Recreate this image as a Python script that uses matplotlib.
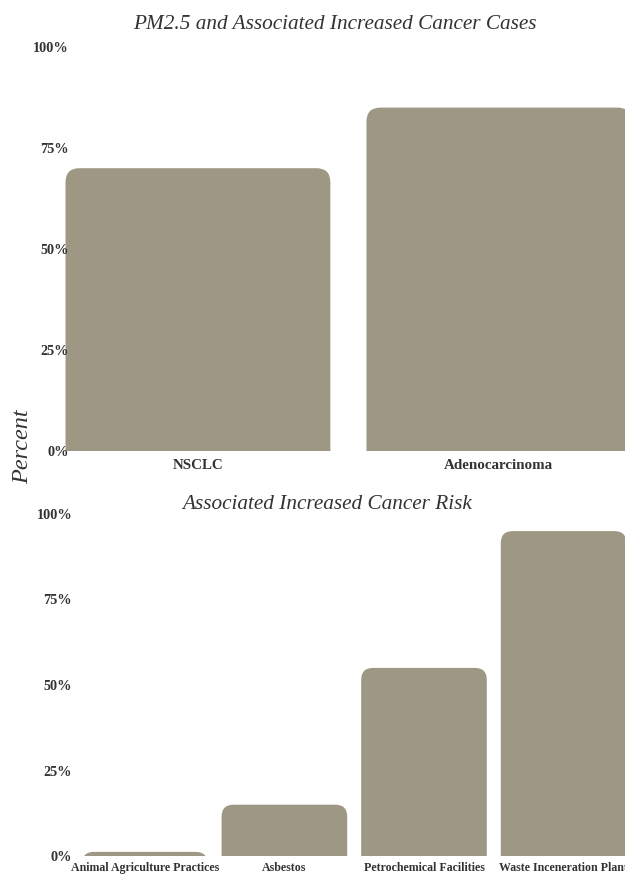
import matplotlib
matplotlib.use("Agg")
import matplotlib.pyplot as plt
from matplotlib.patches import FancyBboxPatch
from matplotlib.ticker import PercentFormatter

top_title = "PM2.5 and Associated Increased Cancer Cases"
top_cats = ["NSCLC", "Adenocarcinoma"]
top_vals = [70, 85]

bot_title = "Associated Increased Cancer Risk"
bot_cats = ["Animal Agriculture Practices", "Asbestos", "Petrochemical Facilities", "Waste Inceneration Plant"]
bot_vals = [1.2, 15, 55, 95]

y_ticks = [0, 25, 50, 75, 100]
bar_color = "#9e9784"
serif = ["Liberation Serif", "DejaVu Serif"]

W, H = 625, 876
fig = plt.figure(figsize=(W / 100, H / 100), dpi=100)


def px_axes(l, t, r, b):
    return fig.add_axes([l / W, 1 - b / H, (r - l) / W, (b - t) / H])


def rounded(ax, bars, radius_px):
    fig.canvas.draw()
    inv = ax.transData.inverted()
    p0 = inv.transform((0, 0))
    p1 = inv.transform((radius_px, radius_px))
    rx = p1[0] - p0[0]
    ry = p1[1] - p0[1]
    for rect in bars:
        x, w, h = rect.get_x(), rect.get_width(), rect.get_height()
        rect.remove()
        patch = FancyBboxPatch((x, -ry), w, h + ry,
                               boxstyle=f"round,pad=0,rounding_size={rx}",
                               mutation_aspect=ry / rx,
                               facecolor=bar_color, edgecolor="none")
        ax.add_patch(patch)


def style(ax, cats, xfs, xpad):
    ax.set_ylim(0, 100)
    ax.set_yticks(y_ticks)
    ax.yaxis.set_major_formatter(PercentFormatter(decimals=0))
    ax.set_xticks(range(len(cats)))
    ax.set_xticklabels(cats)
    for s in ax.spines.values():
        s.set_visible(False)
    ax.tick_params(axis="both", length=0)
    ax.tick_params(axis="x", pad=xpad)
    for lab in ax.get_xticklabels():
        lab.set_fontfamily(serif)
        lab.set_fontweight("bold")
        lab.set_fontsize(xfs)
        lab.set_color("#333333")
    for lab in ax.get_yticklabels():
        lab.set_fontfamily(serif)
        lab.set_fontweight("bold")
        lab.set_fontsize(10.3)
        lab.set_color("#333333")


# top chart
ax1 = px_axes(64, 47, 625, 451)
b1 = ax1.bar(range(len(top_cats)), top_vals, width=0.88, color=bar_color)
ax1.set_xlim(-0.445, 1.419)
style(ax1, top_cats, 10.8, 6)
ax1.tick_params(axis="y", pad=-3.5)
ax1.set_title(top_title, fontfamily=serif, fontstyle="italic", fontsize=15.3,
              color="#333333", pad=13, x=0.482)

# bottom chart
ax2 = px_axes(75, 514, 625, 856)
b2 = ax2.bar(range(len(bot_cats)), bot_vals, width=0.9, color=bar_color)
ax2.set_xlim(-0.5, 3.44)
style(ax2, bot_cats, 8.6, 4)
ax2.tick_params(axis="y", pad=2)
ax2.set_title(bot_title, fontfamily=serif, fontstyle="italic", fontsize=15.3,
              color="#333333", pad=0, x=0.458)

fig.text(23 / W, 1 - 447 / H, "Percent", rotation=90, ha="center", va="center",
         fontfamily=serif, fontstyle="italic", fontsize=17.5, color="#333333")

rounded(ax1, b1, 14)
rounded(ax2, b2, 12)

fig.savefig("out.png", dpi=100)
